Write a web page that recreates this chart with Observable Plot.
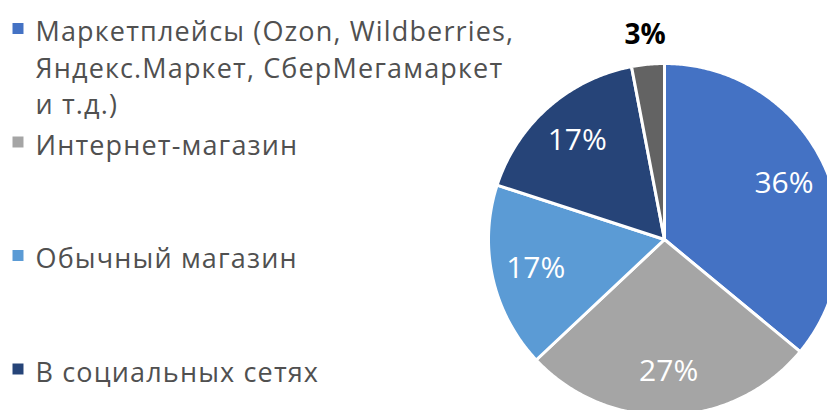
<!DOCTYPE html>
<html><head><meta charset="utf-8">
<script src="https://cdn.jsdelivr.net/npm/d3@7"></script>
<script src="https://cdn.jsdelivr.net/npm/@observablehq/plot@0.6"></script>
<style>
html,body{margin:0;padding:0;background:#fff;overflow:hidden}
#chart svg{display:block}
#chart svg > g:last-of-type text, #chart svg > g:last-of-type tspan{letter-spacing:1.15px}
</style></head><body><div id="chart"></div>
<script>
// ---- data ----
const categories = [
  "Маркетплейсы (Ozon, Wildberries, Яндекс.Маркет, СберМегамаркет и т.д.)",
  "Интернет-магазин",
  "Обычный магазин",
  "В социальных сетях",
  "Другое"
];
const shares = [36, 27, 17, 17, 3];
const colors = ["#4472C4", "#A5A5A5", "#5B9BD5", "#264478", "#636363"];
const legendCount = 4; // entries visible in the legend

// ---- layout ----
const W = 827, H = 410;
const cx = 664, cy = 239, R = 176;
const legendFont = 27, labelFont = 30;
const total = d3.sum(shares);

const arcs = d3.pie().sort(null).value(d => d)(shares);
const slicePts = [];
arcs.forEach((p, i) => {
  const n = Math.max(2, Math.ceil((p.endAngle - p.startAngle) / 0.01));
  slicePts.push({cat: categories[i], x: cx, y: cy});
  for (let k = 0; k <= n; k++) {
    const a = p.startAngle + (p.endAngle - p.startAngle) * k / n;
    slicePts.push({cat: categories[i], x: cx + R * Math.sin(a), y: cy - R * Math.cos(a)});
  }
});

const sliceLabels = arcs.map((p, i) => {
  const a = (p.startAngle + p.endAngle) / 2;
  const pct = Math.round(shares[i] / total * 100);
  const outside = pct < 5;
  const rr = R * (outside ? 1.165 : 0.75);
  return {text: pct + "%", outside, x: cx + rr * Math.sin(a), y: cy - rr * Math.cos(a)};
});

const wrapLabel = s => s.replace("Wildberries, ", "Wildberries,\n").replace("СберМегамаркет ", "СберМегамаркет\n");
const legendItems = categories.slice(0, legendCount).map((c, i) => {
  const baseline = 34 + 113.5 * i;
  return {cat: c, label: wrapLabel(c), x: 35, y: baseline - 0.71 * legendFont, sx: 17.5, sy: baseline - 6};
});

const chart = Plot.plot({
  width: W, height: H,
  margin: 0,
  x: {type: "identity", axis: null},
  y: {type: "identity", axis: null},
  color: {domain: categories, range: colors},
  style: {fontFamily: "'Open Sans', sans-serif", background: "#fff"},
  marks: [
    Plot.line(slicePts, {x: "x", y: "y", z: "cat", fill: "cat", stroke: "white", strokeWidth: 3, strokeLinejoin: "round", curve: "linear-closed"}),
    Plot.text(sliceLabels.filter(d => !d.outside), {x: "x", y: "y", text: "text", fill: "white", fontSize: labelFont}),
    Plot.text(sliceLabels.filter(d => d.outside), {x: "x", y: "y", text: "text", fill: "#000", fontSize: 28, fontWeight: "bold"}),
    Plot.dot(legendItems, {x: "sx", y: "sy", fill: "cat", symbol: "square", r: 6.2}),
    Plot.text(legendItems, {x: "x", y: "y", text: "label", textAnchor: "start", lineAnchor: "top", lineHeight: 36.5 / legendFont, fill: "#505050", fontSize: legendFont})
  ]
});
document.getElementById("chart").append(chart);
</script></body></html>
